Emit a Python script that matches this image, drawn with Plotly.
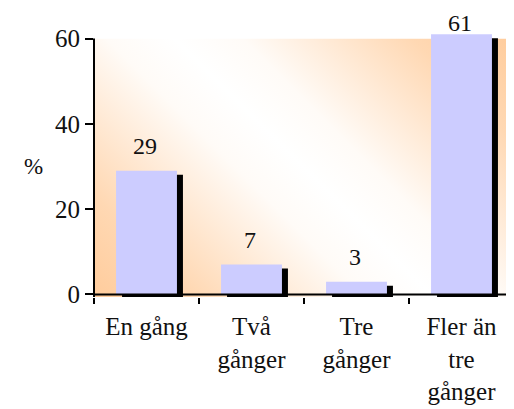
import base64
import plotly.graph_objects as go

# ---- data ----
categories = ["En gång", "Två<br>gånger", "Tre<br>gånger", "Fler än<br>tre<br>gånger"]
values = [29, 7, 3, 61]
y_ticks = [0, 20, 40, 60]
y_title = "%"

# ---- layout constants (page has an 8px body margin) ----
PAGE_W, PAGE_H, OFF = 514, 409, 8
W, H = PAGE_W - OFF, PAGE_H - OFF
ML, MR, MT = 94 - OFF, 0, 30 - OFF
Y_MIN, Y_MAX = -0.6, 62
PX_PER_UNIT = 256 / 60
PLOT_H = round((Y_MAX - Y_MIN) * PX_PER_UNIT)
MB = H - MT - PLOT_H
PLOT_W = W - ML - MR
SLOT_PX = PLOT_W / len(categories)
BAR_W = 0.58
SHADOW_DX, SHADOW_DY = 6, 4
FONT = "Times New Roman, Liberation Serif, Times, serif"
FS = 25
TXT = "#111111"

# background gradient (svg)
gw, gh = PLOT_W, round((60 - Y_MIN) * PX_PER_UNIT)
cx, cy = gw / 2, gh / 2
L = 240
x1, y1 = cx - L * 0.7071, cy + L * 0.7071
x2, y2 = cx + L * 0.7071, cy - L * 0.7071
stops = [(0, "#ffcc9c"), (0.15, "#ffd8b3"), (0.3, "#ffeddc"), (0.4, "#fffbf7"),
         (0.5, "#ffffff"), (0.6, "#fffbf7"), (0.7, "#ffeddc"), (0.85, "#ffd8b3"), (1, "#ffcc9c")]
stop_xml = "".join(f"<stop offset='{o}' stop-color='{c}'/>" for o, c in stops)
svg = (
    f"<svg xmlns='http://www.w3.org/2000/svg' width='{gw}' height='{gh}' viewBox='0 0 {gw} {gh}' preserveAspectRatio='none'>"
    f"<defs><linearGradient id='g' gradientUnits='userSpaceOnUse' x1='{x1:.1f}' y1='{y1:.1f}' x2='{x2:.1f}' y2='{y2:.1f}'>"
    f"{stop_xml}</linearGradient></defs><rect width='{gw}' height='{gh}' fill='url(#g)'/></svg>"
)
svg_uri = "data:image/svg+xml;base64," + base64.b64encode(svg.encode()).decode()

fig = go.Figure()
# shadow
fig.add_trace(go.Bar(
    x=categories, y=values, base=[-SHADOW_DY / PX_PER_UNIT] * len(values),
    width=BAR_W, offset=-BAR_W / 2 + SHADOW_DX / SLOT_PX,
    marker=dict(color="black", line=dict(width=0)), hoverinfo="skip", showlegend=False,
))
# bars
fig.add_trace(go.Bar(
    x=categories, y=values, width=BAR_W,
    marker=dict(color="#ccccff", line=dict(width=0)), showlegend=False,
))

# value labels (paper y so they may sit above the plot area)
def y_to_paper(v):
    return (v - Y_MIN) / (Y_MAX - Y_MIN)

for c, v in zip(categories, values):
    fig.add_annotation(x=c, y=y_to_paper(min(v + 5.7, 63.7)), xref="x", yref="paper",
                       text=str(v), showarrow=False, xshift=-2, yanchor="middle",
                       font=dict(family=FONT, size=FS - 1, color=TXT))

fig.add_annotation(x=(22 - OFF - ML) / PLOT_W, xref="paper", y=y_to_paper(30), yref="paper",
                   text=y_title, showarrow=False, font=dict(family=FONT, size=FS - 2, color=TXT))

fig.add_layout_image(source=svg_uri, xref="paper", yref="y", x=0, y=60, sizex=1,
                     sizey=60 - Y_MIN, xanchor="left", yanchor="top", sizing="stretch",
                     layer="below")

# axis lines
fig.add_shape(type="line", xref="paper", yref="y", x0=0, x1=1, y0=0, y1=0,
              line=dict(color="black", width=2), layer="above")
fig.add_shape(type="line", xref="paper", yref="y", x0=0, x1=0, y0=Y_MIN, y1=60,
              line=dict(color="black", width=2), layer="above")

fig.update_layout(
    width=W, height=H, margin=dict(l=ML, r=MR, t=MT, b=MB, autoexpand=False),
    paper_bgcolor="white", plot_bgcolor="rgba(0,0,0,0)",
    barmode="overlay", font=dict(family=FONT, size=FS, color=TXT),
    xaxis=dict(type="category", range=[-0.5, len(categories) - 0.5], tickson="boundaries",
               ticks="outside", ticklen=6, tickwidth=2, tickcolor="black", automargin=False,
               showline=False, showgrid=False, zeroline=False, ticklabelstandoff=12,
               tickfont=dict(family=FONT, size=FS, color=TXT)),
    yaxis=dict(range=[Y_MIN, Y_MAX], tickvals=y_ticks, ticks="outside", ticklen=8,
               tickwidth=2, tickcolor="black", showline=False, showgrid=False, automargin=False,
               zeroline=False, tickfont=dict(family=FONT, size=FS, color=TXT)),
)

fig.write_html("out.html")
